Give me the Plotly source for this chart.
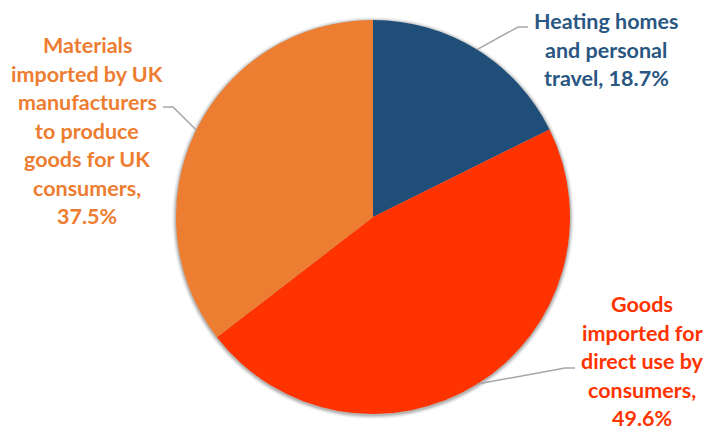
import math
import plotly.graph_objects as go

# ---- data ----
labels = ["Heating homes and personal travel",
          "Goods imported for direct use by consumers",
          "Materials imported by UK manufacturers to produce goods for UK consumers"]
values = [18.7, 49.6, 37.5]
label_lines = [
    ["Heating homes", "and personal", "travel, 18.7%"],
    ["Goods", "imported for", "direct use by", "consumers,", "49.6%"],
    ["Materials", "imported by UK", "manufacturers", "to produce", "goods for UK", "consumers,", "37.5%"],
]
colors = ["#1F4E79", "#FF3300", "#ED7D31"]
text_colors = ["#2A5782", "#FF3300", "#ED7D31"]

# ---- layout / style ----
W, H = 708, 429
CX, CY, R = 373, 217, 197
FONT = "Lato"
FS = 21.5
LINE_GAP = 28.5
# label block centre (x, y of first line) and elbow point of leader line
label_pos = [(606, 21), (642, 304), (87, 45)]
elbows = [((528, 27), (518, 27)), ((575, 368), (565, 368)), ((163, 107), (173, 107))]

fig = go.Figure()
fig.add_trace(go.Pie(
    labels=labels, values=values, sort=False, direction="clockwise", rotation=0,
    marker=dict(colors=colors, line=dict(width=0)),
    textinfo="none", hoverinfo="label+percent", showlegend=False,
    domain=dict(x=[(CX - R) / W, (CX + R) / W],
                y=[(H - CY - R) / H, (H - CY + R) / H]),
))

total = sum(values)
cum = 0.0
shapes = []
# soft shadow halo around the pie
for d, op in [(4, 0.04), (3, 0.06), (2, 0.09), (1, 0.12)]:
    shapes.append(dict(type="circle", xref="x", yref="y", layer="below",
                       x0=CX - R - d, x1=CX + R + d, y0=CY - R - d + 1, y1=CY + R + d + 1,
                       fillcolor=f"rgba(0,0,0,{op})", line=dict(width=0)))
annotations = []
for i, v in enumerate(values):
    mid = (cum + v / 2) / total * 2 * math.pi
    cum += v
    ex = CX + R * math.sin(mid)
    ey = CY - R * math.cos(mid)
    (x0, y0), (x1, y1) = elbows[i]
    shapes.append(dict(type="path", xref="x", yref="y",
                       path=f"M {x0} {y0} L {x1} {y1} L {ex:.1f} {ey:.1f}",
                       line=dict(color="#A6A6A6", width=1.5)))
    lx, ly = label_pos[i]
    for k, line in enumerate(label_lines[i]):
        annotations.append(dict(x=lx, y=ly + k * LINE_GAP, xref="x", yref="y",
                                text=f"<b>{line}</b>", showarrow=False,
                                xanchor="center", yanchor="middle", borderpad=0,
                                font=dict(family=FONT, size=FS, color=text_colors[i])))

fig.update_layout(
    width=W, height=H, margin=dict(l=0, r=0, t=0, b=0),
    paper_bgcolor="white", plot_bgcolor="rgba(0,0,0,0)",
    xaxis=dict(range=[0, W], visible=False, fixedrange=True),
    yaxis=dict(range=[H, 0], visible=False, fixedrange=True),
    shapes=shapes, annotations=annotations,
)
fig.write_html("out.html", config={"displayModeBar": False},
               post_script="document.body.style.margin='0';document.body.style.overflow='hidden';")
